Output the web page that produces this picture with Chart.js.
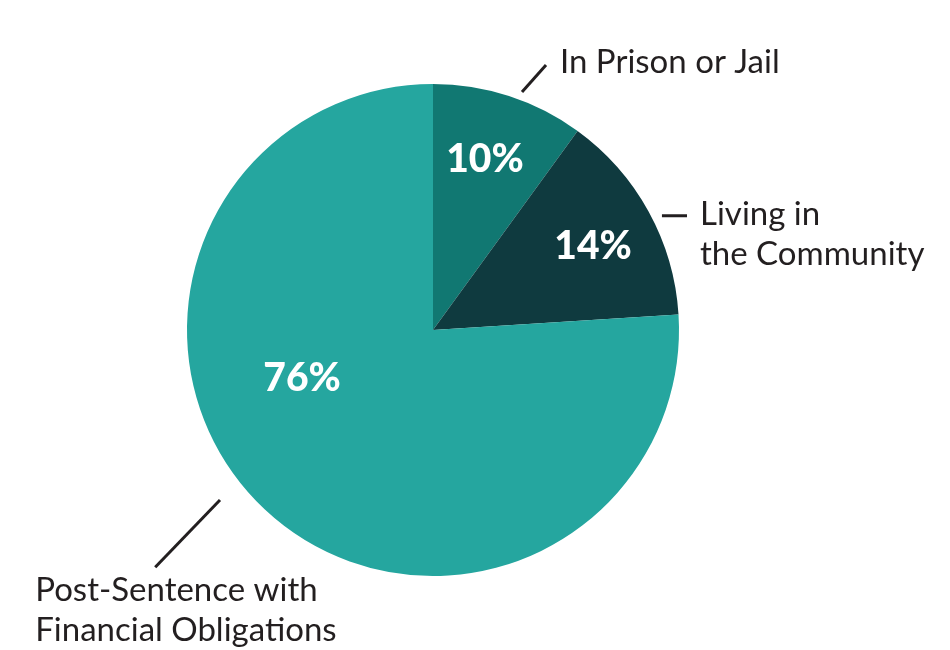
<!DOCTYPE html>
<html>
<head>
<meta charset="utf-8">
<script src="https://cdn.jsdelivr.net/npm/chart.js@4"></script>
<style>
  html, body { margin: 0; padding: 0; background: #fff; }
  #wrap { width: 950px; height: 650px; }
</style>
</head>
<body>
<div id="wrap"><canvas id="pieChart" width="950" height="650"></canvas></div>
<script>
const categories = ['In Prison or Jail', 'Living in the Community', 'Post-Sentence with Financial Obligations'];
const shares = [10, 14, 76];
const shareLabels = ['10%', '14%', '76%'];
const calloutLines = [['In Prison or Jail'], ['Living in', 'the Community'], ['Post-Sentence with', 'Financial Obligations']];
const sliceColors = ['#117872', '#0f3a3f', '#25a69f'];

// label placement, relative to pie centre (angle in degrees, radius as fraction of outer radius)
const pctPos = [[-73, 0.723], [-27.7, 0.735], [159.9, 0.567]];
const leaders = [
  { a0: -69.5, r0: 1.033, a1: -66.9, r1: 1.171, dx: 14, dy: -3 },
  { a0: -26.5, r0: 1.04, a1: -24.2, r1: 1.132, dx: 13, dy: -1 },
  { a0: 141.4, r0: 1.108, a1: 139.5, r1: 1.485, dx: -120, dy: 23 }
];

const FONT = 'Lato, "Liberation Sans", sans-serif';
const TEXT_COLOR = '#231f20';

function polar(arc, deg, f) {
  const a = deg * Math.PI / 180;
  return { x: arc.x + Math.cos(a) * arc.outerRadius * f, y: arc.y + Math.sin(a) * arc.outerRadius * f };
}

const labelPlugin = {
  id: 'pieLabels',
  afterDraw(chart) {
    const ctx = chart.ctx;
    const arcs = chart.getDatasetMeta(0).data;
    ctx.save();
    arcs.forEach((arc, i) => {
      // percentage inside the slice
      const p = polar(arc, pctPos[i][0], pctPos[i][1]);
      ctx.fillStyle = '#ffffff';
      ctx.font = '900 39px ' + FONT;
      ctx.textAlign = 'center';
      ctx.textBaseline = 'middle';
      ctx.fillText(shareLabels[i], p.x, p.y);

      // leader line
      const L = leaders[i];
      const s = polar(arc, L.a0, L.r0);
      const e = polar(arc, L.a1, L.r1);
      ctx.strokeStyle = TEXT_COLOR;
      ctx.lineWidth = 3;
      ctx.beginPath();
      ctx.moveTo(s.x, s.y);
      ctx.lineTo(e.x, e.y);
      ctx.stroke();

      // category text
      ctx.fillStyle = TEXT_COLOR;
      ctx.font = '33px ' + FONT;
      ctx.textAlign = 'left';
      calloutLines[i].forEach((line, j) => {
        ctx.fillText(line, e.x + L.dx, e.y + L.dy + j * 40);
      });
    });
    ctx.restore();
  }
};

const ctx = document.getElementById('pieChart').getContext('2d');
new Chart(ctx, {
  type: 'pie',
  data: {
    labels: categories,
    datasets: [{
      data: shares,
      backgroundColor: sliceColors,
      borderWidth: 0
    }]
  },
  options: {
    responsive: false,
    animation: false,
    layout: { padding: { top: 84, bottom: 74, left: 187, right: 271 } },
    plugins: {
      legend: { display: false },
      tooltip: { enabled: false }
    }
  },
  plugins: [labelPlugin]
});
</script>
</body>
</html>
